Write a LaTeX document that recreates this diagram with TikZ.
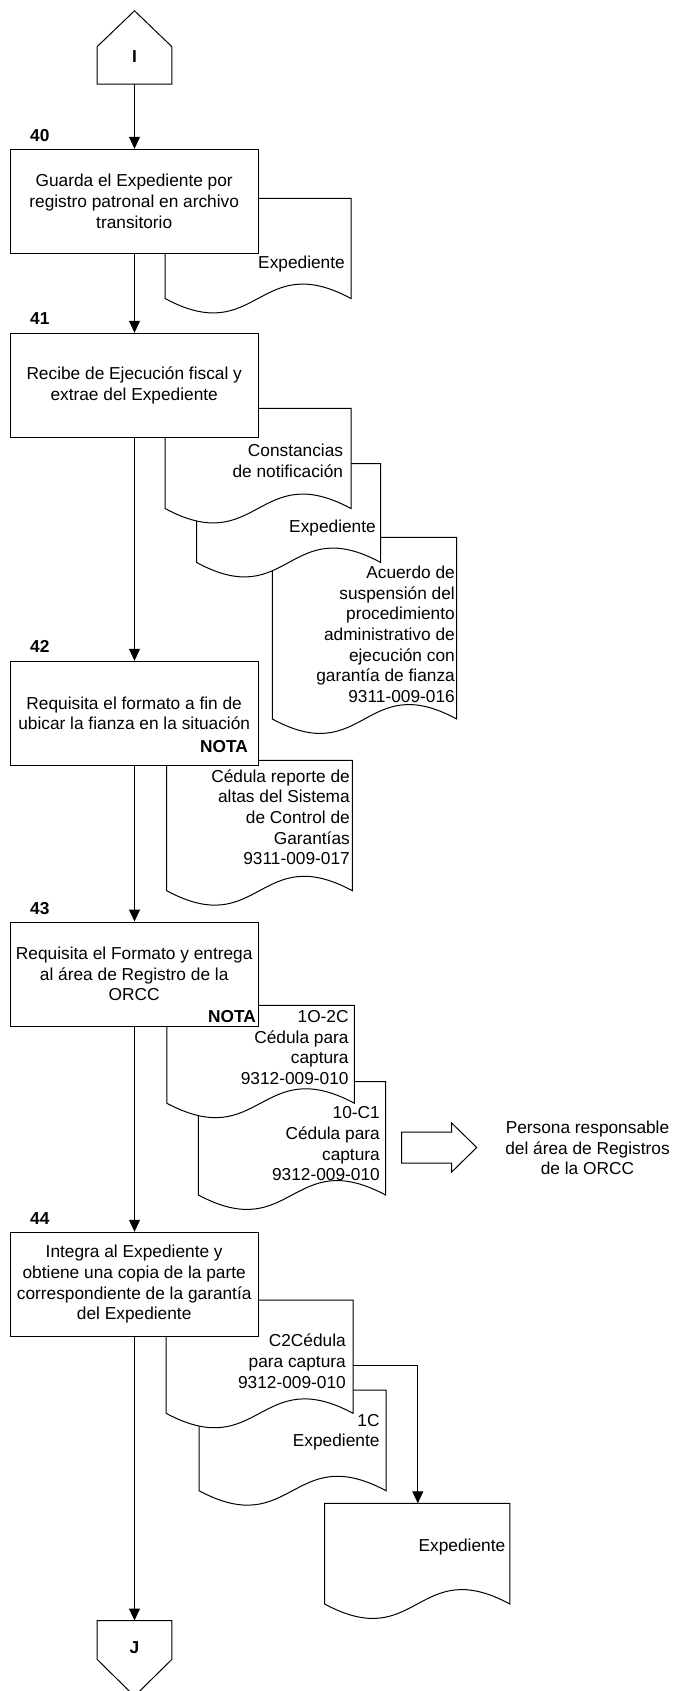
\documentclass[tikz,border=0pt]{standalone}
\usepackage{fontspec}
\setmainfont{Liberation Sans}
\usetikzlibrary{arrows.meta,calc}

\newcommand\diagfont{\fontsize{17.3}{20.7}\selectfont}

% document symbol: name, left, top, right, y of the wave ends
\newcommand\docshape[5]{%
  \path[docline] (#2,#3) coordinate (#1-nw) -- (#4,#3) coordinate (#1-ne)
    -- (#4,#5) coordinate (#1-se)
    .. controls ({(#2+#4)/2},{#5-50}) and ({(#2+#4)/2},{#5+50}) ..
    (#2,#5) coordinate (#1-sw) -- cycle;%
}

\tikzset{
  flow/.style={line width=1pt, -{Triangle[length=12pt,width=11pt]}},
  procbox/.style={draw, fill=white, line width=1pt, minimum width=248.3pt,
    minimum height=104pt, inner sep=0pt, align=center},
  doctext/.style={anchor=east, align=right, inner sep=0pt},
  steplabel/.style={anchor=west, inner sep=0pt, font=\diagfont\bfseries},
  notelabel/.style={anchor=east, inner sep=0pt, font=\diagfont\bfseries},
  docline/.style={draw, fill=white, line width=1pt},
  connshape/.style={draw=none, inner sep=0pt, minimum width=74.4pt},
}

\begin{document}
\begin{tikzpicture}[x=1pt, y=-1pt, font=\diagfont, line join=miter]
\useasboundingbox (0,0) rectangle (676,1691);

% ---- off-page connector I
\node[connshape, minimum height=73pt] (ini) at (134.5,47.5) {};
\draw[line width=1pt, fill=white] (ini.south west)
  -- ($(ini.north west)!0.489!(ini.south west)$) -- (ini.north)
  -- ($(ini.north east)!0.489!(ini.south east)$) -- (ini.south east) -- cycle;
\node[font=\diagfont\bfseries, inner sep=0pt] (iniL) at (134.5,57) {I};

% ---- step 40
\docshape{d1}{165}{198.3}{351}{298.5}
\node[doctext] (d1t) at (345,264) {Expediente};
\node[steplabel] (n40) at (30,136) {40};
\node[procbox] (b40) at (134.2,201.3) {Guarda el Expediente por\\registro patronal en archivo\\transitorio};

% ---- step 41
\docshape{d4}{272.3}{537.3}{456.7}{719}
\node[doctext] (d4t) at (455,634.3) {Acuerdo de\\suspensión del\\procedimiento\\administrativo de\\ejecución con\\garantía de fianza\\9311-009-016};
\docshape{d3}{196.7}{463.7}{380.7}{562.5}
\node[doctext] (d3t) at (376,528.3) {Expediente};
\docshape{d2}{165}{408.3}{351}{508.5}
\node[doctext] (d2t) at (343.3,460.5) {Constancias\\de notificación};
\node[steplabel] (n41) at (30,319) {41};
\node[procbox] (b41) at (134.2,385.3) {Recibe de Ejecución fiscal y\\extrae del Expediente};

% ---- step 42
\docshape{d5}{166.7}{760.3}{352.3}{890.7}
\node[doctext] (d5t) at (350,817.2) {Cédula reporte de\\altas del Sistema\\de Control de\\Garantías\\9311-009-017};
\node[steplabel] (n42) at (30,646) {42};
\node[procbox] (b42) at (134.2,713.3) {Requisita el formato a fin de\\ubicar la fianza en la situación};
\node[notelabel] (nota42) at (248,746.7) {NOTA};

% ---- step 43
\docshape{d7}{198.4}{1081.7}{385.6}{1195}
\node[doctext] (d7t) at (380,1143.7) {10-C1\\Cédula para\\captura\\9312-009-010};
\docshape{d6}{166.8}{1005.3}{354.4}{1103.2}
\node[doctext] (d6t) at (348.8,1047.5) {1O-2C\\Cédula para\\captura\\9312-009-010};
\node[steplabel] (n43) at (30,908.3) {43};
\node[procbox] (b43) at (134.2,974) {Requisita el Formato y entrega\\al área de Registro de la\\ORCC};
\node[notelabel] (nota43) at (256,1016.7) {NOTA};

% hand-over to the registry area
\draw[line width=1pt, fill=white] (401.7,1132) -- (451.7,1132) -- (451.7,1123)
  -- (476.7,1147.5) -- (451.7,1172) -- (451.7,1163) -- (401.7,1163) -- cycle;
\node[align=center, inner sep=0pt] (resp) at (587.5,1148) {Persona responsable\\del área de Registros\\de la ORCC};

% ---- step 44
\docshape{d10}{324.7}{1503.3}{509.9}{1604}
\node[doctext] (d10t) at (505.4,1546.7) {Expediente};
\docshape{d9}{199}{1390}{386}{1490.7}
\node[doctext] (d9t) at (379.7,1432.2) {1C\\Expediente};
\docshape{d8}{166.1}{1300}{353.1}{1413.3}
\node[doctext] (d8t) at (346,1361) {C2Cédula\\para captura\\9312-009-010};
\node[steplabel] (n44) at (30,1218.3) {44};
\node[procbox] (b44) at (134.2,1284.3) {Integra al Expediente y\\obtiene una copia de la parte\\correspondiente de la garantía\\del Expediente};

% ---- off-page connector J
\node[connshape, minimum height=75.3pt] (fin) at (134.5,1658.35) {};
\draw[line width=1pt, fill=white] (fin.north west)
  -- ($(fin.north west)!0.513!(fin.south west)$) -- (fin.south)
  -- ($(fin.north east)!0.513!(fin.south east)$) -- (fin.north east) -- cycle;
\node[font=\diagfont\bfseries, inner sep=0pt] (finL) at (134.5,1648) {J};

% ---- flow lines
\draw[flow] (ini.south) -- (ini.south |- b40.north);
\draw[flow] (b40.south -| ini.south) -- (ini.south |- b41.north);
\draw[flow] (b41.south -| ini.south) -- (ini.south |- b42.north);
\draw[flow] (b42.south -| ini.south) -- (ini.south |- b43.north);
\draw[flow] (b43.south -| ini.south) -- (ini.south |- b44.north);
\draw[flow] (b44.south -| ini.south) -- (fin.north);

\coordinate (d8out) at (353.1,1365);
\coordinate (d10in) at (417.8,1503.3);
\draw[flow] (d8out) -| (d10in);
\end{tikzpicture}
\end{document}
